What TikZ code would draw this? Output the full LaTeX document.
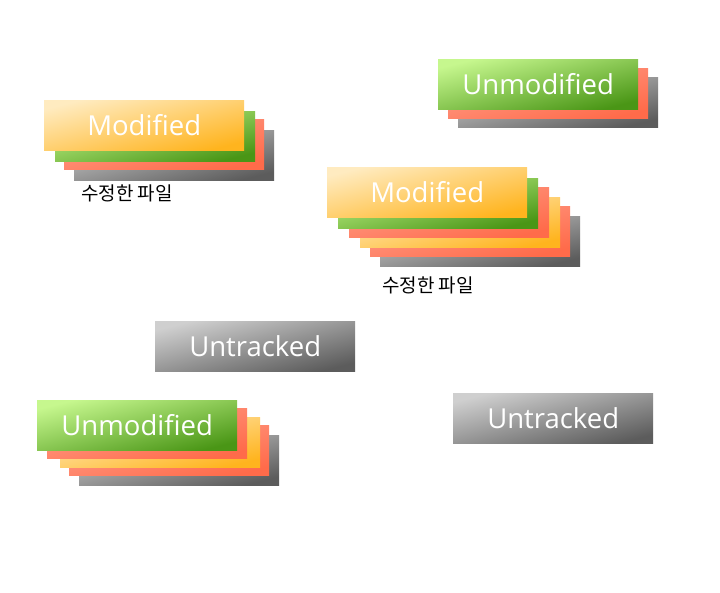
\documentclass[tikz,border=0pt]{standalone}
\usepackage{fontspec}
\setmainfont{Open Sans}
\newfontfamily\krfont{Noto Sans CJK KR}
\definecolor{yellowlight}{HTML}{FFEBC0}
\definecolor{yellowdark}{HTML}{FFB41E}
\definecolor{greenlight}{HTML}{C6F78E}
\definecolor{greendark}{HTML}{4A9616}
\definecolor{redlight}{HTML}{FFA08C}
\definecolor{reddark}{HTML}{FF6B4A}
\definecolor{graylight}{HTML}{CFCFCF}
\definecolor{graydark}{HTML}{5C5C5C}
\tikzset{
    card/.style={minimum width=200pt, minimum height=50pt, inner sep=0pt, anchor=north west,
                 text=white, font=\fontsize{27.5}{32}\selectfont},
    yellowcard/.style={card, top color=yellowlight, bottom color=yellowdark, shading angle=14},
    greencard/.style={card, top color=greenlight, bottom color=greendark, shading angle=14},
    redcard/.style={card, top color=redlight, bottom color=reddark, shading angle=14},
    graycard/.style={card, top color=graylight, bottom color=graydark, shading angle=14},
    filelabel/.style={font=\krfont\fontsize{19}{22}\selectfont, text=black, inner sep=0pt}
}
\begin{document}
\begin{tikzpicture}[x=1pt, y=-1pt]
                \useasboundingbox [fill=white] (0, 0) rectangle (720, 593);
                \node [graycard] (modAgray) at (74, 130) {};
                \node [redcard] (modAred) at (64, 119) {};
                \node [greencard] (modAgreen) at (55, 111) {};
                \node [yellowcard] (modA) at (44, 100) {Modified};
                \node [filelabel] (modAlabel) at (127, 193) {수정한 파일};
                \node [graycard] (unmodAgray) at (458, 77) {};
                \node [redcard] (unmodAred) at (448, 68) {};
                \node [greencard] (unmodA) at (438, 59) {Unmodified};
                \node [graycard] (modBgray) at (380, 216) {};
                \node [redcard] (modBred2) at (370, 206) {};
                \node [yellowcard] (modByellow) at (360, 197) {};
                \node [redcard] (modBred) at (349, 187) {};
                \node [greencard] (modBgreen) at (338, 178) {};
                \node [yellowcard] (modB) at (327, 167) {Modified};
                \node [filelabel] (modBlabel) at (428, 285) {수정한 파일};
                \node [graycard] (untrackA) at (155, 321) {Untracked};
                \node [graycard] (untrackB) at (453, 393) {Untracked};
                \node [graycard] (unmodBgray) at (79, 435) {};
                \node [redcard] (unmodBred2) at (69, 425) {};
                \node [yellowcard] (unmodByellow) at (60, 417) {};
                \node [redcard] (unmodBred) at (47, 408) {};
                \node [greencard] (unmodB) at (37, 400) {Unmodified};
            \end{tikzpicture}
\end{document}
